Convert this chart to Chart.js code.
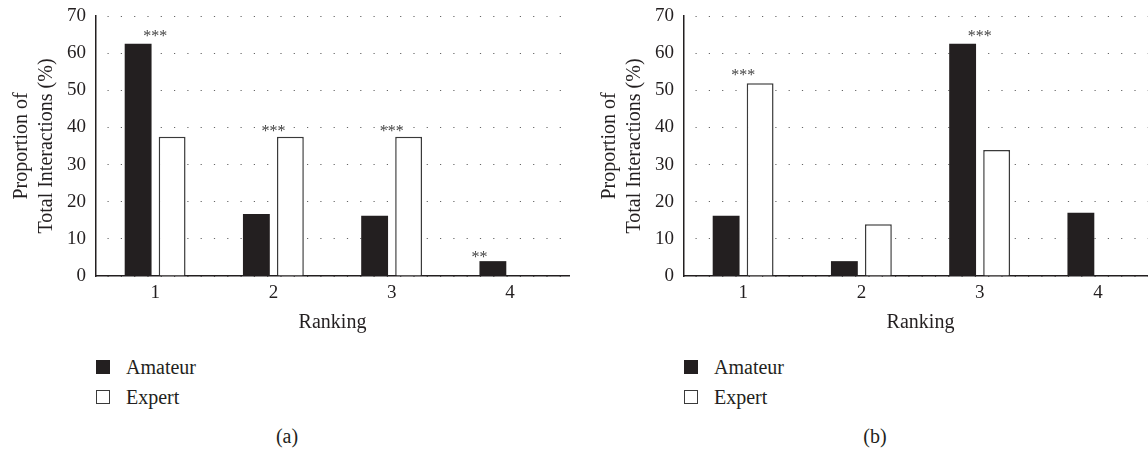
<!DOCTYPE html>
<html>
<head>
<meta charset="utf-8">
<script src="https://cdn.jsdelivr.net/npm/chart.js@4"></script>
<style>
  body { margin: 0; background: #fff; }
  #wrap { position: relative; width: 1148px; height: 451px; overflow: hidden; background: #fff; }
  .panel { position: absolute; top: 0; width: 574px; height: 451px; }
  .plot { position: absolute; left: 0; top: 0; width: 574px; height: 345px; }
  .legend { position: absolute; left: 96px; top: 352px; font-family: "Liberation Serif", serif; font-size: 20px; color: #231f20; }
  .legend .row { display: flex; align-items: center; height: 30px; }
  .legend .box { width: 14px; height: 14px; margin-right: 16px; box-sizing: border-box; }
  .caption { position: absolute; left: 0; width: 574px; top: 425px; text-align: center; font-family: "Liberation Serif", serif; font-size: 20px; color: #231f20; }
</style>
</head>
<body>
<div id="wrap">
  <div class="panel" id="panelA" style="left:0px">
    <div class="plot"><canvas id="chartA"></canvas></div>
  </div>
  <div class="panel" id="panelB" style="left:588px">
    <div class="plot"><canvas id="chartB"></canvas></div>
  </div>
</div>
<script>
const rankings = ["1", "2", "3", "4"];
const seriesNames = ["Amateur", "Expert"];

// panel (a)
const amateurA = [62.5, 16.7, 16.2, 4.0];
const expertA = [37.5, 37.5, 37.5, 0];
const starTextA = ["***", "***", "***", "**"];
const starLevelA = [65.4, 40, 40, 5.9];
const starAnchorA = ["category", "category", "category", "amateur"];

// panel (b)
const amateurB = [16.2, 4.0, 62.5, 17.0];
const expertB = [51.9, 13.9, 33.9, 0];
const starTextB = ["***", "", "***", ""];
const starLevelB = [55, 0, 65.4, 0];
const starAnchorB = ["category", "category", "category", "category"];

const yMin = 0;
const yMax = 70;
const yStep = 10;
const yTitle = ["Proportion of", "Total Interactions (%)"];
const xTitle = "Ranking";

const INK = "#231f20";
const FONT = "Liberation Serif";

// draws the significance stars above the bars
const starsPlugin = {
  id: "stars",
  afterDatasetsDraw(chart, args, opts) {
    const { ctx, scales } = chart;
    const amMeta = chart.getDatasetMeta(0);
    ctx.save();
    ctx.font = `16px "${FONT}"`;
    ctx.fillStyle = "#444";
    ctx.textAlign = "center";
    ctx.textBaseline = "middle";
    opts.text.forEach((t, i) => {
      if (!t) return;
      let x = scales.x.getPixelForValue(i);
      if (opts.anchor[i] === "amateur") {
        const bar = amMeta.data[i];
        x = bar.x - bar.width / 2;
      }
      const y = scales.y.getPixelForValue(opts.level[i]) + 4;
      ctx.fillText(t, x, y);
    });
    ctx.restore();
  }
};

const makePanel = (panelId, canvasId, amateur, expert, starText, starLevel, starAnchor, caption) => {
  const ctx = document.getElementById(canvasId).getContext("2d");
  const chart = new Chart(ctx, {
    type: "bar",
    data: {
      labels: rankings,
      datasets: [
        {
          label: seriesNames[0],
          data: amateur,
          backgroundColor: INK,
          borderWidth: 0,
        },
        {
          label: seriesNames[1],
          data: expert,
          backgroundColor: "#ffffff",
          borderColor: "#3a3a3a",
          borderWidth: 1.5,
        },
      ],
    },
    options: {
      responsive: true,
      maintainAspectRatio: false,
      animation: false,
      categoryPercentage: 0.575,
      barPercentage: 0.79,
      layout: { padding: { top: 16, right: 5, bottom: 0, left: 0 } },
      plugins: {
        legend: { display: false },
        tooltip: { enabled: false },
        stars: { text: starText, level: starLevel, anchor: starAnchor },
      },
      scales: {
        x: {
          grid: { display: false, drawTicks: false },
          border: { display: true, color: INK, width: 1.5 },
          ticks: {
            color: INK,
            padding: 6,
            font: { family: FONT, size: 19 },
          },
          title: {
            display: true,
            text: xTitle,
            color: INK,
            padding: { top: 0, bottom: 10 },
            font: { family: FONT, size: 20 },
          },
          afterFit: (scale) => {
            scale.height = 69;
            scale.paddingLeft = 0;
            scale.paddingRight = 0;
          },
        },
        y: {
          min: yMin,
          max: yMax,
          grid: { color: "#666", lineWidth: 1, drawTicks: false },
          border: { display: true, color: INK, width: 1.5, dash: [1.2, 12.1], dashOffset: -11 },
          ticks: {
            stepSize: yStep,
            color: INK,
            padding: 10,
            font: { family: FONT, size: 19 },
          },
          title: {
            display: true,
            text: yTitle,
            color: INK,
            padding: { top: 9.5, bottom: 0 },
            font: { family: FONT, size: 20, lineHeight: 1.25 },
          },
          afterFit: (scale) => {
            scale.width = 96;
            scale.paddingTop = 0;
            scale.paddingBottom = 0;
          },
        },
      },
    },
    plugins: [starsPlugin],
  });

  // legend and caption as html text under the plot
  const panel = document.getElementById(panelId);
  const legend = document.createElement("div");
  legend.className = "legend";
  chart.data.datasets.forEach((ds) => {
    const row = document.createElement("div");
    row.className = "row";
    const box = document.createElement("span");
    box.className = "box";
    box.style.background = ds.backgroundColor;
    if (ds.borderWidth) box.style.border = `1.5px solid ${ds.borderColor}`;
    const label = document.createElement("span");
    label.textContent = ds.label;
    row.appendChild(box);
    row.appendChild(label);
    legend.appendChild(row);
  });
  panel.appendChild(legend);

  const cap = document.createElement("div");
  cap.className = "caption";
  cap.textContent = caption;
  panel.appendChild(cap);
  return chart;
};

makePanel("panelA", "chartA", amateurA, expertA, starTextA, starLevelA, starAnchorA, "(a)");
makePanel("panelB", "chartB", amateurB, expertB, starTextB, starLevelB, starAnchorB, "(b)");
</script>
</body>
</html>
